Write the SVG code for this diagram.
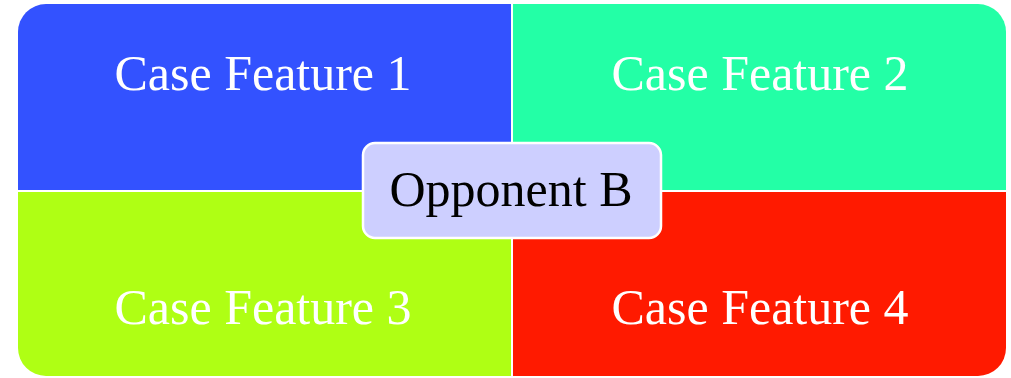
<svg xmlns="http://www.w3.org/2000/svg" width="1011" height="378" viewBox="0 0 1011 378">
<style>
.lbl{font-family:"Liberation Serif","Times New Roman",serif;font-size:50px;fill:#ffffff;text-anchor:middle}
.ctr{font-family:"Liberation Serif","Times New Roman",serif;font-size:50px;fill:#000000;text-anchor:middle}
</style>
<rect width="1011" height="378" fill="#ffffff"/>
<g id="q1"><path d="M18,32 A28,28 0 0 1 46,4 L511,4 L511,190 L18,190 Z" fill="#3352FF"/><text class="lbl" x="263" y="90">Case Feature 1</text></g>
<g id="q2"><path d="M513,4 L978,4 A28,28 0 0 1 1006,32 L1006,190 L513,190 Z" fill="#23FFA6"/><text class="lbl" x="760" y="90">Case Feature 2</text></g>
<g id="q3"><path d="M18,192 L511,192 L511,376 L46,376 A28,28 0 0 1 18,348 Z" fill="#AFFF14"/><text class="lbl" x="263" y="324">Case Feature 3</text></g>
<g id="q4"><path d="M513,192 L1006,192 L1006,348 A28,28 0 0 1 978,376 L513,376 Z" fill="#FF1A00"/><text class="lbl" x="760" y="324">Case Feature 4</text></g>
<g id="connectors"></g>
<g id="center"><rect x="363" y="143" width="298" height="95" rx="12" fill="#CDCFFF" stroke="#ffffff" stroke-width="2.5"/><text class="ctr" x="511" y="206">Opponent B</text></g>
</svg>
